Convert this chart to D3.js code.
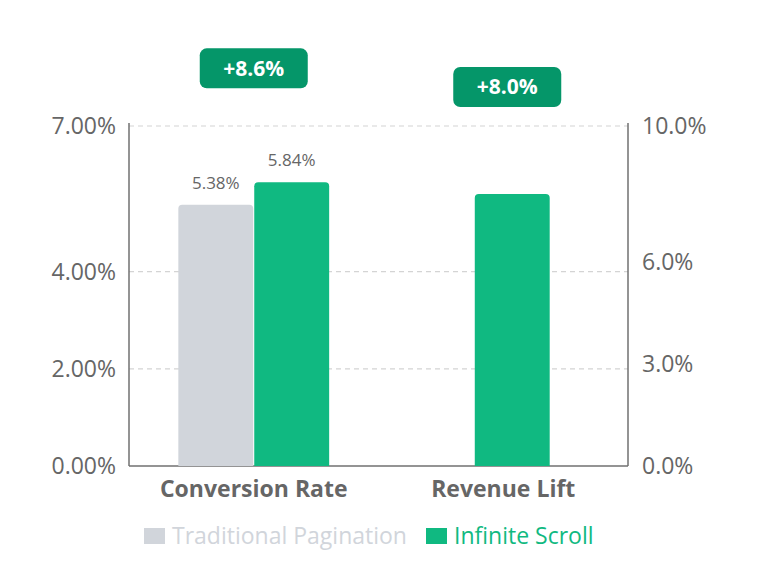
<!DOCTYPE html>
<html>
<head>
<meta charset="utf-8">
<script src="https://cdn.jsdelivr.net/npm/d3@7"></script>
<style>
  body { margin: 0; background: #fff; }
  svg { font-family: "Open Sans", "Noto Sans", sans-serif; }
</style>
</head>
<body>
<div id="chart"></div>
<script>
// Conversion rate vs revenue lift, two y axes

const categories = ["Conversion Rate", "Revenue Lift"];
const seriesNames = ["Traditional Pagination", "Infinite Scroll"];
const conversion = [5.38, 5.84];      // left axis, %
const revenueLift = [0, 8.0];         // right axis, %
const liftBadges = ["+8.6%", "+8.0%"];
const leftTicks = [0, 2, 4, 7];
const rightTicks = [0, 3, 6, 10];

const colors = { trad: "#d1d5db", inf: "#10b981", badge: "#059669" };

const W = 764, H = 570;
const margin = {top: 126, right: 136, bottom: 104, left: 129};
const width = W - margin.left - margin.right;
const height = H - margin.top - margin.bottom;

const svg = d3.select("#chart")
    .append("svg")
    .attr("width", W)
    .attr("height", H);

const g = svg.append("g")
    .attr("transform", `translate(${margin.left},${margin.top})`);

// Scales
const x0 = d3.scaleBand()
    .domain(categories)
    .range([0, width]);

const x1 = d3.scaleBand()
    .domain(seriesNames)
    .range([0, x0.bandwidth()])
    .paddingOuter(0.65)
    .paddingInner(0.013);

const yL = d3.scaleLinear().domain([0, 7]).range([height, 0]);
const yR = d3.scaleLinear().domain([0, 10]).range([height, 0]);

// Grid
g.selectAll(".grid")
    .data(leftTicks.filter(d => d > 0))
    .enter()
    .append("line")
    .attr("x1", 0)
    .attr("x2", width)
    .attr("y1", d => yL(d))
    .attr("y2", d => yL(d))
    .attr("stroke", "#d4d4d4")
    .attr("stroke-width", 1.2)
    .attr("stroke-dasharray", "5,4");

// Axis lines
const axisColor = "#707070";
g.append("line").attr("x1", 0).attr("x2", 0).attr("y1", -3).attr("y2", height)
    .attr("stroke", axisColor).attr("stroke-width", 1.5);
g.append("line").attr("x1", width).attr("x2", width).attr("y1", -3).attr("y2", height)
    .attr("stroke", axisColor).attr("stroke-width", 1.5);
g.append("line").attr("x1", 0).attr("x2", width).attr("y1", height).attr("y2", height)
    .attr("stroke", axisColor).attr("stroke-width", 1.5);

// Tick labels
g.selectAll(".ltick")
    .data(leftTicks)
    .enter()
    .append("text")
    .attr("x", -13)
    .attr("y", d => yL(d))
    .attr("dy", "0.35em")
    .attr("text-anchor", "end")
    .style("font-size", "23px")
    .style("fill", "#666")
    .text(d => d.toFixed(2) + "%");

g.selectAll(".rtick")
    .data(rightTicks)
    .enter()
    .append("text")
    .attr("x", width + 14)
    .attr("y", d => yR(d))
    .attr("dy", "0.35em")
    .attr("text-anchor", "start")
    .style("font-size", "23px")
    .style("fill", "#666")
    .text(d => d.toFixed(1) + "%");

// Category labels
g.selectAll(".cat")
    .data(categories)
    .enter()
    .append("text")
    .attr("x", d => x0(d) + x0.bandwidth() / 2)
    .attr("y", height + 31)
    .attr("text-anchor", "middle")
    .style("font-size", "23px")
    .style("font-weight", "bold")
    .style("fill", "#666")
    .text(d => d);

// rounded top bar path
function topRounded(x, y, w, h, r) {
    r = Math.min(r, h, w / 2);
    return `M${x},${y + h}V${y + r}Q${x},${y} ${x + r},${y}H${x + w - r}Q${x + w},${y} ${x + w},${y + r}V${y + h}Z`;
}

// Conversion bars (left axis)
const convData = seriesNames.map((s, i) => ({series: s, value: conversion[i], color: i === 0 ? colors.trad : colors.inf}));

g.selectAll(".conv")
    .data(convData)
    .enter()
    .append("path")
    .attr("d", d => topRounded(x0(categories[0]) + x1(d.series), yL(d.value), x1.bandwidth(), height - yL(d.value), 4))
    .attr("fill", d => d.color);

g.selectAll(".convLabel")
    .data(convData)
    .enter()
    .append("text")
    .attr("x", d => x0(categories[0]) + x1(d.series) + x1.bandwidth() / 2)
    .attr("y", d => yL(d.value) - 16)
    .attr("text-anchor", "middle")
    .style("font-size", "17px")
    .style("fill", "#666")
    .text(d => d.value.toFixed(2) + "%");

// Revenue bars (right axis)
const revData = seriesNames.map((s, i) => ({series: s, value: revenueLift[i], color: i === 0 ? colors.trad : colors.inf}))
    .filter(d => d.value > 0);

g.selectAll(".rev")
    .data(revData)
    .enter()
    .append("path")
    .attr("d", d => {
        const cx = x0(categories[1]) + x0.bandwidth() / 2 + x1.bandwidth() * 0.12;
        return topRounded(cx - x1.bandwidth() / 2, yR(d.value), x1.bandwidth(), height - yR(d.value), 4);
    })
    .attr("fill", d => d.color);

// Lift badges
const badgeTops = [yL(conversion[1]) - 114, yR(revenueLift[1]) - 107];
const badges = g.selectAll(".badge")
    .data(categories)
    .enter()
    .append("g")
    .attr("transform", (d, i) => `translate(${x0(d) + x0.bandwidth() / 2 + i * 4},${badgeTops[i]})`);

badges.append("rect")
    .attr("x", -54)
    .attr("y", -20)
    .attr("width", 108)
    .attr("height", 40)
    .attr("rx", 7)
    .attr("fill", colors.badge);

badges.append("text")
    .attr("dy", "0.35em")
    .attr("text-anchor", "middle")
    .style("font-size", "21px")
    .style("font-weight", "bold")
    .style("fill", "#fff")
    .text((d, i) => liftBadges[i]);

// Legend
const legend = svg.append("g")
    .attr("transform", `translate(144, 536)`);

const legendColors = [colors.trad, colors.inf];
const legendX = [0, 282];

seriesNames.forEach((s, i) => {
    const item = legend.append("g").attr("transform", `translate(${legendX[i]},0)`);
    item.append("rect")
        .attr("x", 0)
        .attr("y", -8)
        .attr("width", 21)
        .attr("height", 16)
        .attr("fill", legendColors[i]);
    item.append("text")
        .attr("x", 28)
        .attr("dy", "0.35em")
        .style("font-size", "23px")
        .style("fill", legendColors[i])
        .text(s);
});
</script>
</body>
</html>
